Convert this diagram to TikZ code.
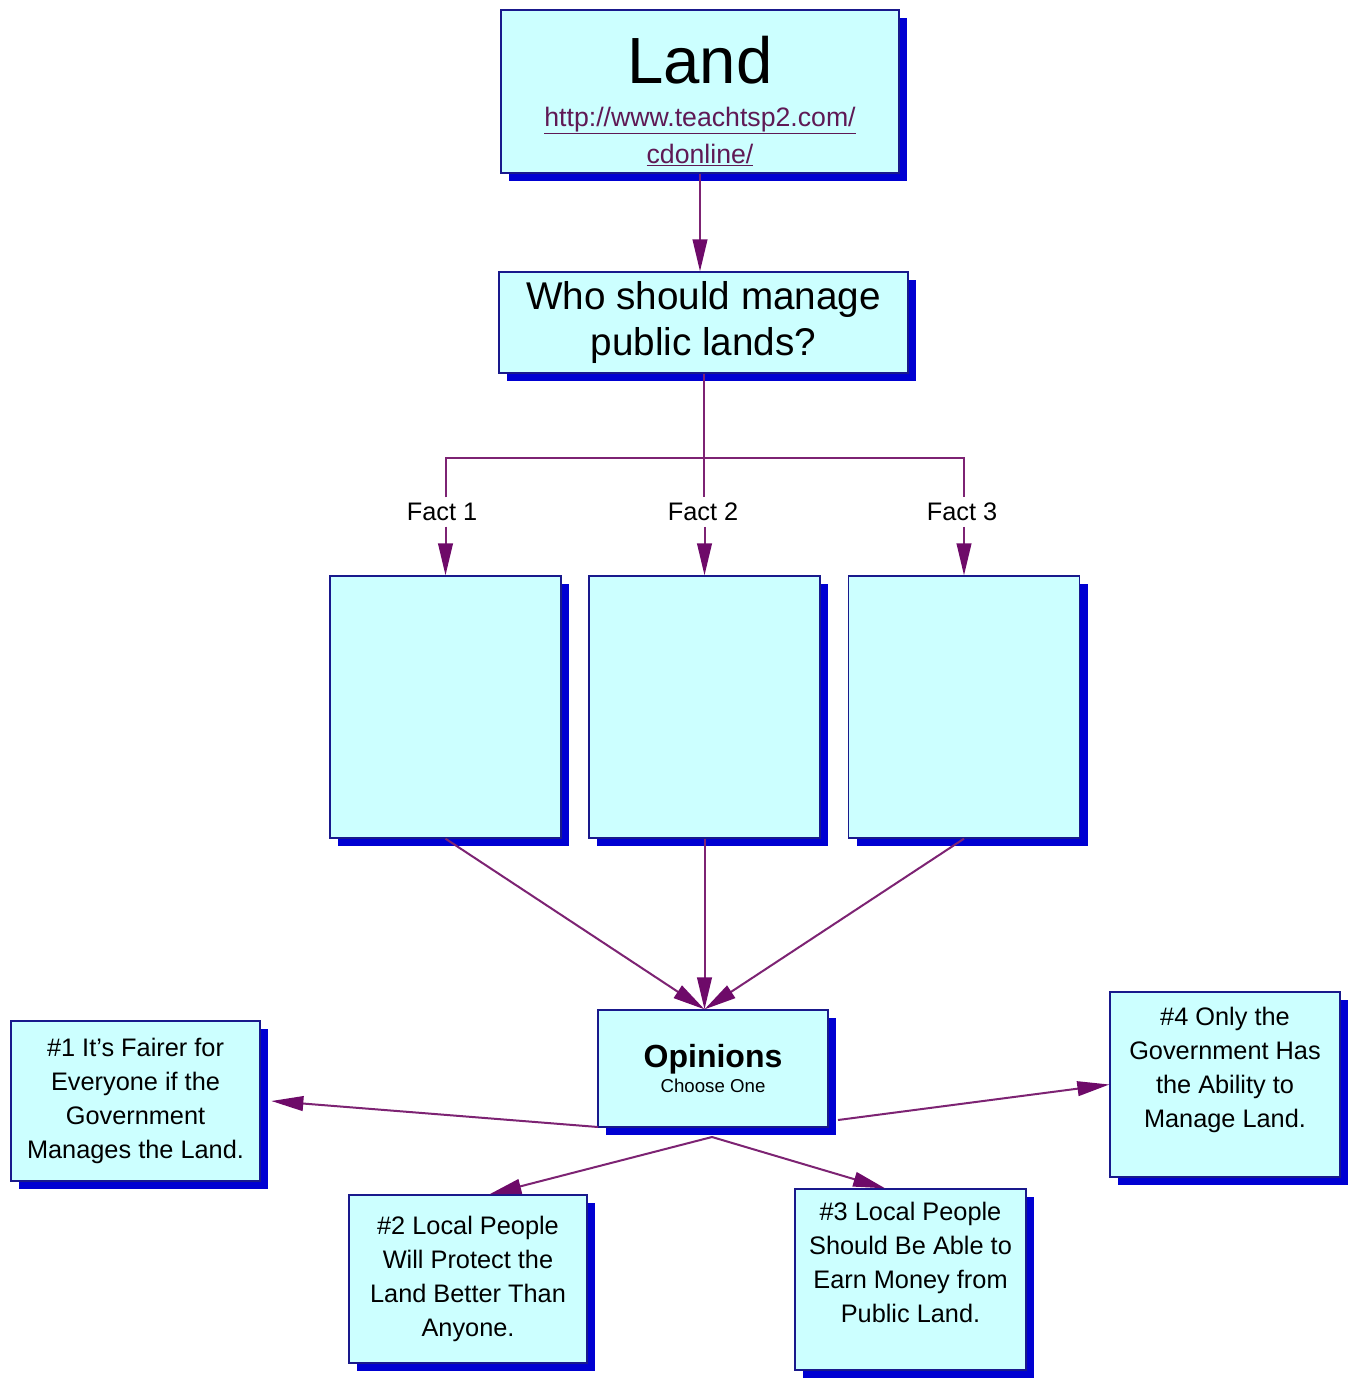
\documentclass[tikz,border=0pt]{standalone}
\usepackage{fontspec}
\setmainfont{Liberation Sans}
\usetikzlibrary{arrows.meta,shadows,positioning}

\definecolor{boxfill}{RGB}{204,255,255}
\definecolor{boxline}{RGB}{25,25,140}
\definecolor{shadowblue}{RGB}{0,0,210}
\definecolor{linkpurple}{RGB}{125,35,115}
\definecolor{arrowpurple}{RGB}{110,10,105}
\definecolor{urlpurple}{RGB}{95,25,85}

\tikzset{every picture/.style={line width=0.75pt}}
\tikzset{
  mapbox/.style={draw=boxline, fill=boxfill, line width=1pt, align=center, inner sep=0pt,
    drop shadow={shadow xshift=6pt, shadow yshift=-6pt, opacity=1, fill=shadowblue}},
  factbox/.style={mapbox, minimum width=173.25pt, minimum height=196.5pt},
  boxtext/.style={font=\fontsize{19}{25.5}\selectfont},
  factlabel/.style={font=\fontsize{19}{22}\selectfont, inner sep=4pt},
  link/.style={draw=linkpurple, line width=1.5pt},
  linkarrow/.style={link, -{Triangle[width=11pt,length=24pt,color=arrowpurple]}},
}

\begin{document}
\begin{tikzpicture}[x=0.75pt,y=0.75pt,yscale=-1,xscale=1]
        \useasboundingbox (0,0) rectangle (1355,1380);
        \fill[white] (0,0) rectangle (1355,1380);

        % Title box
        \node[mapbox, minimum width=298.5pt, minimum height=122.25pt, font=\fontsize{20}{28}\selectfont] (land) at (700,91.5)
          {\rule{0pt}{50pt}{\fontsize{49}{49}\selectfont Land}\\[4pt]
           {\color{urlpurple}\underline{http://www.teachtsp2.com/}}\\
           {\color{urlpurple}\underline{cdonline/}}};

        % Question box
        \node[mapbox, minimum width=306.75pt, minimum height=75.75pt, font=\fontsize{29}{34}\selectfont] (quest) at (703.5,322.5)
          {Who should manage\\public lands?};

        % Fact boxes
        \node[factbox] (fact1) at (445.5,707) {};
        \node[factbox] (fact2) at (704.5,707) {};
        \node[factbox] (fact3) at (964,707) {};

        % Text Node
        \node[factlabel] (lab1) at (442,512) {Fact 1};
        \node[factlabel] (lab2) at (703,512) {Fact 2};
        \node[factlabel] (lab3) at (962,512) {Fact 3};

        % Opinions box
        \node[mapbox, minimum width=172.5pt, minimum height=87.75pt, font=\fontsize{14}{19}\selectfont] (opin) at (713,1068.5)
          {{\fontsize{24}{24}\selectfont\bfseries Opinions}\\Choose One};

        % Opinion boxes
        \node[mapbox, boxtext, minimum width=186.75pt, minimum height=120pt] (op1) at (135.5,1101)
          {\#1 It's Fairer for\\Everyone if the\\Government\\Manages the Land.};
        \node[mapbox, boxtext, minimum width=178.5pt, minimum height=126pt] (op2) at (468,1279)
          {\#2 Local People\\Will Protect the\\Land Better Than\\Anyone.};
        \node[mapbox, boxtext, minimum width=173.25pt, minimum height=135.75pt] (op3) at (910.5,1279.5)
          {\#3 Local People\\Should Be Able to\\Earn Money from\\Public Land.\\{}};
        \node[mapbox, boxtext, minimum width=172.5pt, minimum height=138.75pt] (op4) at (1225,1084.5)
          {\#4 Only the\\Government Has\\the Ability to\\Manage Land.\\{}};

        % Connectors
        \draw[linkarrow] (land.south) -- (land.south |- quest.north);

        \coordinate (bus) at (703.5,458);
        \draw[link] (quest.south) -- (bus);
        \draw[link] (lab1.north -| fact1.north) |- (bus) -| (lab3.north -| fact3.north);
        \draw[link] (bus) -- (lab2.north -| bus);

        \draw[linkarrow] (lab1.south -| fact1.north) -- (fact1.north);
        \draw[linkarrow] (lab2.south -| fact2.north) -- (fact2.north);
        \draw[linkarrow] (lab3.south -| fact3.north) -- (fact3.north);

        \coordinate (meet) at (fact2.south |- opin.north);
        \draw[linkarrow] (fact1.south) -- (meet);
        \draw[linkarrow] (fact2.south) -- (meet);
        \draw[linkarrow] (fact3.south) -- (meet);

        \coordinate (oleft) at (598,1127);
        \coordinate (oright) at (838,1120);
        \coordinate (obot) at (712,1137);
        \draw[linkarrow] (oleft) -- ([xshift=8pt]op1.east);
        \draw[linkarrow] (oright) -- (op4.west);
        \draw[linkarrow] (obot) -- ([xshift=16pt]op2.north);
        \draw[linkarrow] (obot) -- ([xshift=-19pt]op3.north);

    \end{tikzpicture}
\end{document}
